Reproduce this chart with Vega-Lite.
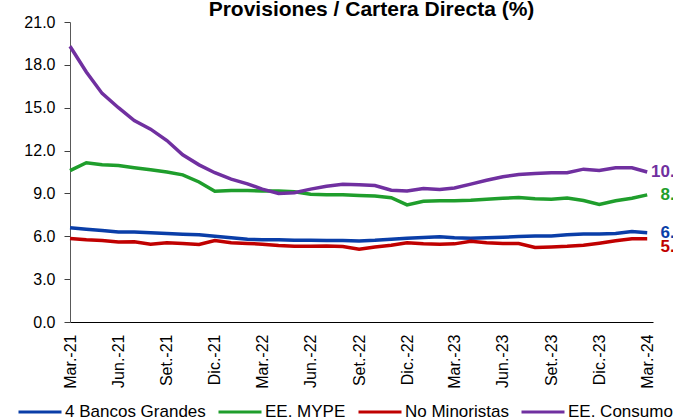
{
  "$schema": "https://vega.github.io/schema/vega-lite/v6.json",
  "width": 583,
  "height": 300,
  "autosize": {"type": "none"},
  "padding": {"left": 70, "top": 22, "right": 20, "bottom": 97},
  "background": "white",
  "config": {
    "view": {"stroke": null},
    "font": "Liberation Sans"
  },
  "title": {
    "text": "Provisiones / Cartera Directa (%)",
    "font": "Liberation Sans",
    "fontSize": 21,
    "fontWeight": "bold",
    "color": "#000000",
    "anchor": "middle",
    "frame": "group",
    "offset": -6,
    "dx": 10
  },
  "data": {
    "values": [
      {"date":"2021-03-01","series":"4 Bancos Grandes","value":6.6},
      {"date":"2021-04-01","series":"4 Bancos Grandes","value":6.5},
      {"date":"2021-05-01","series":"4 Bancos Grandes","value":6.4},
      {"date":"2021-06-01","series":"4 Bancos Grandes","value":6.3},
      {"date":"2021-07-01","series":"4 Bancos Grandes","value":6.3},
      {"date":"2021-08-01","series":"4 Bancos Grandes","value":6.25},
      {"date":"2021-09-01","series":"4 Bancos Grandes","value":6.2},
      {"date":"2021-10-01","series":"4 Bancos Grandes","value":6.15},
      {"date":"2021-11-01","series":"4 Bancos Grandes","value":6.1},
      {"date":"2021-12-01","series":"4 Bancos Grandes","value":6.0},
      {"date":"2022-01-01","series":"4 Bancos Grandes","value":5.9},
      {"date":"2022-02-01","series":"4 Bancos Grandes","value":5.8},
      {"date":"2022-03-01","series":"4 Bancos Grandes","value":5.75},
      {"date":"2022-04-01","series":"4 Bancos Grandes","value":5.75},
      {"date":"2022-05-01","series":"4 Bancos Grandes","value":5.72},
      {"date":"2022-06-01","series":"4 Bancos Grandes","value":5.72},
      {"date":"2022-07-01","series":"4 Bancos Grandes","value":5.7},
      {"date":"2022-08-01","series":"4 Bancos Grandes","value":5.7},
      {"date":"2022-09-01","series":"4 Bancos Grandes","value":5.67},
      {"date":"2022-10-01","series":"4 Bancos Grandes","value":5.72},
      {"date":"2022-11-01","series":"4 Bancos Grandes","value":5.8},
      {"date":"2022-12-01","series":"4 Bancos Grandes","value":5.86},
      {"date":"2023-01-01","series":"4 Bancos Grandes","value":5.92},
      {"date":"2023-02-01","series":"4 Bancos Grandes","value":5.97},
      {"date":"2023-03-01","series":"4 Bancos Grandes","value":5.9},
      {"date":"2023-04-01","series":"4 Bancos Grandes","value":5.86},
      {"date":"2023-05-01","series":"4 Bancos Grandes","value":5.9},
      {"date":"2023-06-01","series":"4 Bancos Grandes","value":5.93},
      {"date":"2023-07-01","series":"4 Bancos Grandes","value":5.98},
      {"date":"2023-08-01","series":"4 Bancos Grandes","value":6.02},
      {"date":"2023-09-01","series":"4 Bancos Grandes","value":6.02},
      {"date":"2023-10-01","series":"4 Bancos Grandes","value":6.1},
      {"date":"2023-11-01","series":"4 Bancos Grandes","value":6.16},
      {"date":"2023-12-01","series":"4 Bancos Grandes","value":6.16},
      {"date":"2024-01-01","series":"4 Bancos Grandes","value":6.2},
      {"date":"2024-02-01","series":"4 Bancos Grandes","value":6.33},
      {"date":"2024-03-01","series":"4 Bancos Grandes","value":6.25},

      {"date":"2021-03-01","series":"EE. MYPE","value":10.6},
      {"date":"2021-04-01","series":"EE. MYPE","value":11.15},
      {"date":"2021-05-01","series":"EE. MYPE","value":11.0},
      {"date":"2021-06-01","series":"EE. MYPE","value":10.95},
      {"date":"2021-07-01","series":"EE. MYPE","value":10.8},
      {"date":"2021-08-01","series":"EE. MYPE","value":10.65},
      {"date":"2021-09-01","series":"EE. MYPE","value":10.5},
      {"date":"2021-10-01","series":"EE. MYPE","value":10.3},
      {"date":"2021-11-01","series":"EE. MYPE","value":9.8},
      {"date":"2021-12-01","series":"EE. MYPE","value":9.15},
      {"date":"2022-01-01","series":"EE. MYPE","value":9.2},
      {"date":"2022-02-01","series":"EE. MYPE","value":9.2},
      {"date":"2022-03-01","series":"EE. MYPE","value":9.17},
      {"date":"2022-04-01","series":"EE. MYPE","value":9.17},
      {"date":"2022-05-01","series":"EE. MYPE","value":9.12},
      {"date":"2022-06-01","series":"EE. MYPE","value":8.95},
      {"date":"2022-07-01","series":"EE. MYPE","value":8.9},
      {"date":"2022-08-01","series":"EE. MYPE","value":8.9},
      {"date":"2022-09-01","series":"EE. MYPE","value":8.85},
      {"date":"2022-10-01","series":"EE. MYPE","value":8.82},
      {"date":"2022-11-01","series":"EE. MYPE","value":8.7},
      {"date":"2022-12-01","series":"EE. MYPE","value":8.2},
      {"date":"2023-01-01","series":"EE. MYPE","value":8.45},
      {"date":"2023-02-01","series":"EE. MYPE","value":8.49},
      {"date":"2023-03-01","series":"EE. MYPE","value":8.49},
      {"date":"2023-04-01","series":"EE. MYPE","value":8.53},
      {"date":"2023-05-01","series":"EE. MYPE","value":8.6},
      {"date":"2023-06-01","series":"EE. MYPE","value":8.66},
      {"date":"2023-07-01","series":"EE. MYPE","value":8.72},
      {"date":"2023-08-01","series":"EE. MYPE","value":8.62},
      {"date":"2023-09-01","series":"EE. MYPE","value":8.6},
      {"date":"2023-10-01","series":"EE. MYPE","value":8.68},
      {"date":"2023-11-01","series":"EE. MYPE","value":8.5},
      {"date":"2023-12-01","series":"EE. MYPE","value":8.22},
      {"date":"2024-01-01","series":"EE. MYPE","value":8.49},
      {"date":"2024-02-01","series":"EE. MYPE","value":8.66},
      {"date":"2024-03-01","series":"EE. MYPE","value":8.9},

      {"date":"2021-03-01","series":"No Minoristas","value":5.85},
      {"date":"2021-04-01","series":"No Minoristas","value":5.75},
      {"date":"2021-05-01","series":"No Minoristas","value":5.7},
      {"date":"2021-06-01","series":"No Minoristas","value":5.6},
      {"date":"2021-07-01","series":"No Minoristas","value":5.62},
      {"date":"2021-08-01","series":"No Minoristas","value":5.45},
      {"date":"2021-09-01","series":"No Minoristas","value":5.55},
      {"date":"2021-10-01","series":"No Minoristas","value":5.5},
      {"date":"2021-11-01","series":"No Minoristas","value":5.42},
      {"date":"2021-12-01","series":"No Minoristas","value":5.7},
      {"date":"2022-01-01","series":"No Minoristas","value":5.55},
      {"date":"2022-02-01","series":"No Minoristas","value":5.5},
      {"date":"2022-03-01","series":"No Minoristas","value":5.45},
      {"date":"2022-04-01","series":"No Minoristas","value":5.35},
      {"date":"2022-05-01","series":"No Minoristas","value":5.3},
      {"date":"2022-06-01","series":"No Minoristas","value":5.3},
      {"date":"2022-07-01","series":"No Minoristas","value":5.32},
      {"date":"2022-08-01","series":"No Minoristas","value":5.28},
      {"date":"2022-09-01","series":"No Minoristas","value":5.1},
      {"date":"2022-10-01","series":"No Minoristas","value":5.25},
      {"date":"2022-11-01","series":"No Minoristas","value":5.38},
      {"date":"2022-12-01","series":"No Minoristas","value":5.55},
      {"date":"2023-01-01","series":"No Minoristas","value":5.47},
      {"date":"2023-02-01","series":"No Minoristas","value":5.45},
      {"date":"2023-03-01","series":"No Minoristas","value":5.47},
      {"date":"2023-04-01","series":"No Minoristas","value":5.65},
      {"date":"2023-05-01","series":"No Minoristas","value":5.55},
      {"date":"2023-06-01","series":"No Minoristas","value":5.5},
      {"date":"2023-07-01","series":"No Minoristas","value":5.5},
      {"date":"2023-08-01","series":"No Minoristas","value":5.22},
      {"date":"2023-09-01","series":"No Minoristas","value":5.25},
      {"date":"2023-10-01","series":"No Minoristas","value":5.3},
      {"date":"2023-11-01","series":"No Minoristas","value":5.38},
      {"date":"2023-12-01","series":"No Minoristas","value":5.52},
      {"date":"2024-01-01","series":"No Minoristas","value":5.68},
      {"date":"2024-02-01","series":"No Minoristas","value":5.82},
      {"date":"2024-03-01","series":"No Minoristas","value":5.82},

      {"date":"2021-03-01","series":"EE. Consumo","value":19.3},
      {"date":"2021-04-01","series":"EE. Consumo","value":17.5},
      {"date":"2021-05-01","series":"EE. Consumo","value":16.0},
      {"date":"2021-06-01","series":"EE. Consumo","value":15.0},
      {"date":"2021-07-01","series":"EE. Consumo","value":14.1},
      {"date":"2021-08-01","series":"EE. Consumo","value":13.5},
      {"date":"2021-09-01","series":"EE. Consumo","value":12.7},
      {"date":"2021-10-01","series":"EE. Consumo","value":11.7},
      {"date":"2021-11-01","series":"EE. Consumo","value":11.0},
      {"date":"2021-12-01","series":"EE. Consumo","value":10.45},
      {"date":"2022-01-01","series":"EE. Consumo","value":10.0},
      {"date":"2022-02-01","series":"EE. Consumo","value":9.67},
      {"date":"2022-03-01","series":"EE. Consumo","value":9.3},
      {"date":"2022-04-01","series":"EE. Consumo","value":9.0},
      {"date":"2022-05-01","series":"EE. Consumo","value":9.05},
      {"date":"2022-06-01","series":"EE. Consumo","value":9.3},
      {"date":"2022-07-01","series":"EE. Consumo","value":9.5},
      {"date":"2022-08-01","series":"EE. Consumo","value":9.64},
      {"date":"2022-09-01","series":"EE. Consumo","value":9.6},
      {"date":"2022-10-01","series":"EE. Consumo","value":9.55},
      {"date":"2022-11-01","series":"EE. Consumo","value":9.22},
      {"date":"2022-12-01","series":"EE. Consumo","value":9.17},
      {"date":"2023-01-01","series":"EE. Consumo","value":9.35},
      {"date":"2023-02-01","series":"EE. Consumo","value":9.27},
      {"date":"2023-03-01","series":"EE. Consumo","value":9.38},
      {"date":"2023-04-01","series":"EE. Consumo","value":9.65},
      {"date":"2023-05-01","series":"EE. Consumo","value":9.92},
      {"date":"2023-06-01","series":"EE. Consumo","value":10.17},
      {"date":"2023-07-01","series":"EE. Consumo","value":10.33},
      {"date":"2023-08-01","series":"EE. Consumo","value":10.4},
      {"date":"2023-09-01","series":"EE. Consumo","value":10.45},
      {"date":"2023-10-01","series":"EE. Consumo","value":10.45},
      {"date":"2023-11-01","series":"EE. Consumo","value":10.7},
      {"date":"2023-12-01","series":"EE. Consumo","value":10.6},
      {"date":"2024-01-01","series":"EE. Consumo","value":10.8},
      {"date":"2024-02-01","series":"EE. Consumo","value":10.8},
      {"date":"2024-03-01","series":"EE. Consumo","value":10.5}
    ]
  },
  "encoding": {
    "x": {
      "field": "date",
      "type": "temporal",
      "scale": {
        "type": "utc",
        "domain": [
          {"year": 2021, "month": 3, "date": 1, "utc": true},
          {"year": 2024, "month": 3, "date": 12, "utc": true}
        ]
      },
      "axis": {
        "title": null,
        "values": [
          {"year": 2021, "month": 3, "date": 1, "utc": true},
          {"year": 2021, "month": 6, "date": 1, "utc": true},
          {"year": 2021, "month": 9, "date": 1, "utc": true},
          {"year": 2021, "month": 12, "date": 1, "utc": true},
          {"year": 2022, "month": 3, "date": 1, "utc": true},
          {"year": 2022, "month": 6, "date": 1, "utc": true},
          {"year": 2022, "month": 9, "date": 1, "utc": true},
          {"year": 2022, "month": 12, "date": 1, "utc": true},
          {"year": 2023, "month": 3, "date": 1, "utc": true},
          {"year": 2023, "month": 6, "date": 1, "utc": true},
          {"year": 2023, "month": 9, "date": 1, "utc": true},
          {"year": 2023, "month": 12, "date": 1, "utc": true},
          {"year": 2024, "month": 3, "date": 1, "utc": true}
        ],
        "labelExpr": "['Ene.','Feb.','Mar.','Abr.','May.','Jun.','Jul.','Ago.','Set.','Oct.','Nov.','Dic.'][utcmonth(datum.value)] + '-' + utcFormat(datum.value, '%y')",
        "labelAngle": -90,
        "labelAlign": "right",
        "labelBaseline": "middle",
        "labelFont": "Liberation Sans",
        "labelFontSize": 16,
        "labelColor": "#000000",
        "labelPadding": 12,
        "labelOverlap": false,
        "labelFlush": false,
        "ticks": false,
        "grid": false,
        "domainColor": "#000000",
        "domainWidth": 1
      }
    },
    "y": {
      "field": "value",
      "type": "quantitative",
      "scale": {"domain": [0, 21], "nice": false, "zero": true},
      "axis": {
        "title": null,
        "values": [0, 3, 6, 9, 12, 15, 18, 21],
        "format": ".1f",
        "labelFont": "Liberation Sans",
        "labelFontSize": 16,
        "labelColor": "#000000",
        "labelPadding": 9,
        "tickSize": 6,
        "tickColor": "#404040",
        "domainColor": "#595959",
        "grid": false
      }
    },
    "color": {
      "field": "series",
      "type": "nominal",
      "scale": {
        "domain": ["4 Bancos Grandes", "EE. MYPE", "No Minoristas", "EE. Consumo"],
        "range": ["#0a3ea8", "#1f9e2c", "#c00000", "#7030a0"]
      },
      "legend": {
        "title": null,
        "orient": "none",
        "direction": "horizontal",
        "columns": 4,
        "legendX": -53,
        "legendY": 367,
        "symbolType": "stroke",
        "symbolSize": 1849,
        "symbolStrokeWidth": 3,
        "labelFont": "Liberation Sans",
        "labelFontSize": 17,
        "labelColor": "#000000",
        "labelOffset": 2,
        "columnPadding": 6,
        "labelLimit": 300
      }
    }
  },
  "layer": [
    {
      "mark": {"type": "line", "strokeWidth": 3.5, "interpolate": "linear"}
    },
    {
      "transform": [
        {"filter": "time(toDate(datum.date)) > utc(2024, 1, 15) && datum.series != 'No Minoristas'"}
      ],
      "mark": {"type": "text", "align": "right", "baseline": "middle", "dx": 37, "font": "Liberation Sans", "fontSize": 17, "fontWeight": "bold"},
      "encoding": {
        "text": {"field": "value", "type": "quantitative", "format": ".1f"}
      }
    },
    {
      "transform": [
        {"filter": "time(toDate(datum.date)) > utc(2024, 1, 15) && datum.series == 'No Minoristas'"}
      ],
      "mark": {"type": "text", "align": "right", "baseline": "middle", "dx": 37, "dy": 8, "font": "Liberation Sans", "fontSize": 17, "fontWeight": "bold"},
      "encoding": {
        "text": {"field": "value", "type": "quantitative", "format": ".1f"}
      }
    }
  ]
}
